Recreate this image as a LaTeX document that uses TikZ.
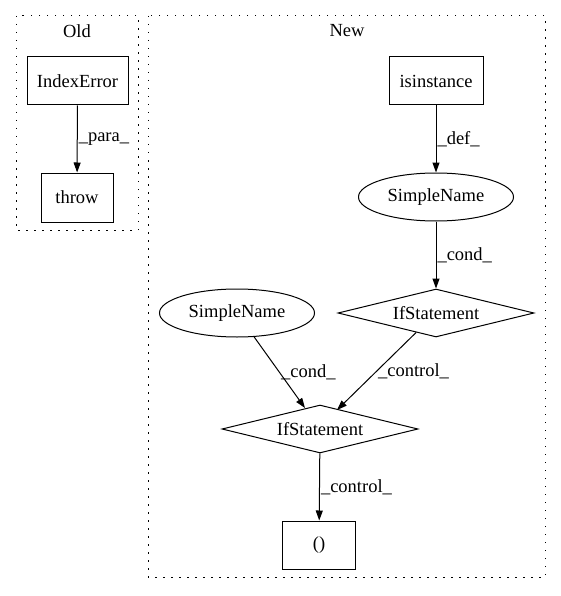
\documentclass[tikz,border=0pt]{standalone}
\usepackage{fontspec}
\setmainfont{Liberation Serif}
\usepackage{tikz}
\usetikzlibrary{arrows.meta,positioning,shapes.geometric}

\begin{document}
\begin{tikzpicture}[x=1pt,y=-1pt,
    every node/.style={font=\fontsize{18.5}{21}\selectfont},
    cluster/.style={line width=1pt,dash pattern=on 1.5pt off 6.5pt},
    stmt/.style={draw,line width=1pt,rectangle,inner sep=0pt},
    namenode/.style={draw,line width=1pt,ellipse,minimum width=155pt,minimum height=48pt,inner sep=0pt},
    ifnode/.style={draw,line width=1pt,diamond,aspect=4,minimum width=196pt,minimum height=48pt,inner sep=0pt},
    flow/.style={line width=1pt,-{Triangle[length=10pt,width=7pt]}},
    elabel/.style={anchor=west,inner sep=1pt}]
  \useasboundingbox (0,0) rectangle (561,596);
  % clusters
  \draw[cluster] (16,16) rectangle (138,230);
  \draw[cluster] (148,16) rectangle (545,577);
  \node (oldTitle) at (77,31) {Old};
  \node (newTitle) at (347,31) {New};
  % old
  \node[stmt,minimum width=101pt,minimum height=48pt] (indexError) at (77.5,81) {IndexError};
  \node[stmt,minimum width=72pt,minimum height=49pt] (throwNode) at (77,197.5) {throw};
  % new
  \node[stmt,minimum width=94pt,minimum height=48pt] (isinstanceNode) at (436,81) {isinstance};
  \node[namenode] (simpleNameA) at (436,197) {SimpleName};
  \node[ifnode] (ifStmtA) at (436,313) {IfStatement};
  \node[namenode] (simpleNameB) at (237,313) {SimpleName};
  \node[ifnode] (ifStmtB) at (320,429) {IfStatement};
  \node[stmt,minimum width=73pt,minimum height=48pt] (callNode) at (319,545) {()};
  % edges
  \draw[flow] (indexError) -- node[elabel] {\_para\_} (throwNode);
  \draw[flow] (isinstanceNode) -- node[elabel] {\_def\_} (simpleNameA);
  \draw[flow] (simpleNameA) -- node[elabel] {\_cond\_} (ifStmtA);
  \draw[flow] (simpleNameB) -- node[elabel] {\_cond\_} (305,408);
  \draw[flow] (ifStmtA) -- node[elabel] {\_control\_} (337,410);
  \draw[flow] (ifStmtB) -- node[elabel] {\_control\_} (callNode);
\end{tikzpicture}
\end{document}
